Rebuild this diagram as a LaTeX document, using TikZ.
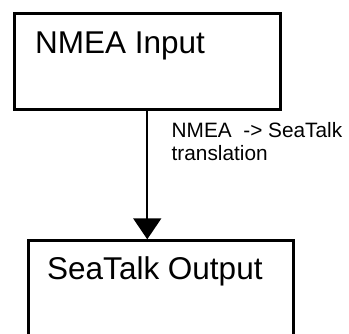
\documentclass[tikz,border=0pt]{standalone}
\usepackage{fontspec}
\setmainfont{Liberation Sans}
\usetikzlibrary{arrows.meta,calc}
\begin{document}
\begin{tikzpicture}[x=1pt,y=-1pt,
  boxstyle/.style={draw=black,line width=2.8pt,inner sep=0pt,anchor=north west},
  titlestyle/.style={inner sep=0pt,anchor=base west,font=\fontsize{31.5}{37}\selectfont},
  labelstyle/.style={inner sep=0pt,anchor=base west,align=left,font=\fontsize{20.8}{23}\selectfont},
  arrowstyle/.style={line width=1.8pt,-{Triangle[width=28pt,length=21pt]}}]
\useasboundingbox (0,0) rectangle (349,333);
\clip (0,0) rectangle (349,333);
\node[boxstyle,minimum width=266.3pt,minimum height=96pt] (top) at (12.7,12.3) {};
\node[boxstyle,minimum width=265pt,minimum height=120pt] (bot) at (26.7,239.3) {};
\node[titlestyle] (toptext) at (35,53.3) {NMEA Input};
\node[titlestyle] (bottext) at (47,279.3) {SeaTalk Output};
\draw[arrowstyle] (top.south) -- (top.south |- bot.north);
\node[labelstyle] (lbl) at (171.5,160.5) {NMEA\ \ -> SeaTalk\\translation};
\end{tikzpicture}
\end{document}
